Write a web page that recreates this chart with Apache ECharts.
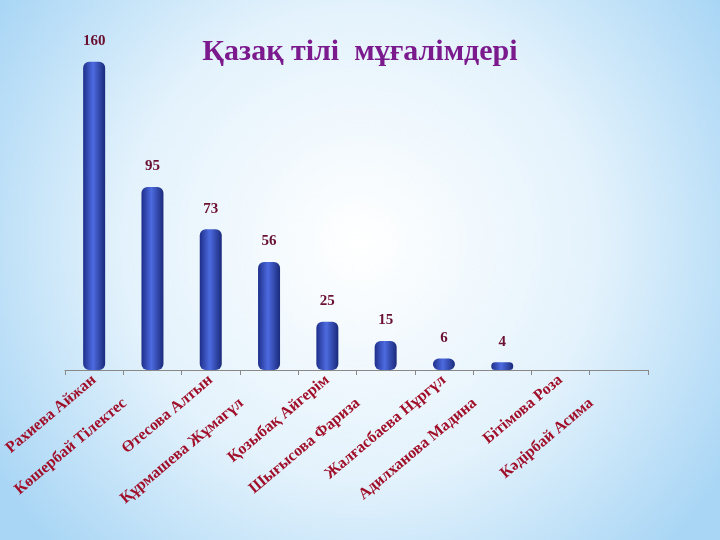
<!DOCTYPE html><html><head><meta charset="utf-8"><script src="https://cdn.jsdelivr.net/npm/echarts@6/dist/echarts.min.js"></script>
<style>html,body{margin:0;padding:0}#c{width:720px;height:540px}</style></head><body><div id="c"></div><script>
const categories=["Рахиева Айжан","Көшербай Тілектес","Өтесова Алтын","Құрмашева Жұмагүл","Қозыбақ Айгерім","Шығысова Фариза","Жалғасбаева Нұргүл","Адилханова Мадина","Бітімова Роза","Кәдірбай Асима"];
const values=[160,95,73,56,25,15,6,4,null,null];
const chart=echarts.init(document.getElementById('c'));
chart.setOption({
 backgroundColor:{type:'radial',x:0.5,y:0.45,r:0.8,colorStops:[{offset:0,color:'#ffffff'},{offset:0.55,color:'#e3f2fc'},{offset:1,color:'#a9d6f5'}]},
 title:{text:'Қазақ тілі  мұғалімдері',left:'center',top:32,textStyle:{fontFamily:'Liberation Serif',fontSize:30,fontWeight:'bold',color:'#7a1a8c'}},
 grid:{left:65,right:72,top:52,bottom:170},
 xAxis:{type:'category',data:categories,axisTick:{show:true,lineStyle:{color:'#888'}},axisLine:{lineStyle:{color:'#888'}},
  axisLabel:{rotate:40,interval:0,margin:8,fontFamily:'Liberation Serif',fontWeight:'bold',fontSize:16,color:'#a0102a',
   formatter:(v,i)=>i%2?v+'         ':v}},
 yAxis:{type:'value',min:0,max:165,show:false,splitLine:{show:false}},
 series:[{type:'bar',data:values,barWidth:22,
  itemStyle:{borderRadius:[6,6,6,6],color:{type:'linear',x:0,y:0,x2:1,y2:0,colorStops:[{offset:0,color:'#1e2f8a'},{offset:0.45,color:'#4d6be0'},{offset:1,color:'#1a2a7a'}]}},
  label:{show:true,position:'top',offset:[0,-8],fontFamily:'Liberation Serif',fontWeight:'bold',fontSize:15,color:'#6a1030'}}]
});
</script></body></html>
